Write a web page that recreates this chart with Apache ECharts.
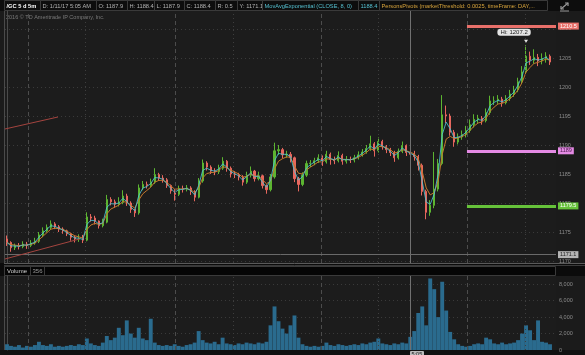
<!DOCTYPE html>
<html><head><meta charset="utf-8">
<script src="https://cdn.jsdelivr.net/npm/echarts@6/dist/echarts.min.js"></script>
<style>html,body{margin:0;padding:0;background:#1b1b1b;overflow:hidden}#c{width:585px;height:355px}</style>
</head><body><div id="c"></div>
<script>
// ---- data (one candle ≈ 50 min of 5-min bars) ----
const firstOpen = 1173.8;
const closes = [
1173.2,1172.3,1172.6,1172.5,1172.9,1172.7,1173.1,1173.4,1174.5,1175.2,
1175.8,1176.4,1175.9,1175.5,1175.2,1174.7,1174.1,1173.8,1173.9,1173.6,
1177.6,1177.4,1176.9,1176.1,1176.7,1180.6,1180.2,1179.8,1180.1,1181.2,
1180.0,1178.9,1178.3,1182.6,1183.2,1183.0,1183.6,1184.9,1184.3,1184.0,
1183.0,1182.1,1181.5,1182.5,1182.4,1182.6,1182.0,1181.0,1183.8,1186.9,
1186.2,1185.5,1185.4,1186.0,1187.2,1186.0,1185.0,1184.9,1184.5,1183.6,
1184.8,1185.5,1184.2,1184.7,1183.0,1182.3,1184.5,1189.0,1189.2,1188.3,
1188.4,1187.8,1184.2,1183.2,1184.8,1186.8,1186.9,1187.3,1187.8,1187.1,
1188.4,1187.5,1187.3,1188.2,1187.2,1187.5,1187.4,1187.8,1188.3,1188.8,
1189.4,1190.2,1189.0,1190.6,1189.7,1189.2,1188.7,1187.8,1188.9,1189.9,
1188.7,1188.4,1188.0,1186.5,1182.0,1178.4,1179.6,1182.4,1186.8,1195.2,
1195.0,1192.2,1190.5,1191.4,1191.8,1192.5,1193.5,1194.4,1194.6,1194.2,
1195.6,1197.6,1197.6,1197.9,1197.3,1198.0,1198.8,1199.5,1200.9,1202.6,
1205.3,1204.6,1205.1,1204.5,1204.9,1205.3,1204.3];
const lows = [
1172.6,1171.6,1171.9,1172.0,1172.2,1172.1,1172.4,1172.8,1173.1,1174.1,
1174.9,1175.4,1175.5,1175.0,1174.7,1174.3,1173.5,1173.2,1173.3,1173.1,
1173.4,1176.8,1176.3,1175.6,1175.8,1176.5,1179.6,1179.2,1179.4,1179.8,
1179.5,1178.3,1177.6,1178.0,1182.2,1182.5,1182.7,1183.3,1183.8,1183.5,
1182.6,1181.6,1180.4,1181.2,1181.8,1182.0,1181.4,1180.3,1180.8,1183.5,
1185.6,1185.0,1184.8,1185.0,1185.7,1185.4,1184.4,1184.3,1183.9,1183.0,
1183.3,1184.4,1183.7,1183.9,1182.5,1181.6,1182.0,1184.2,1188.3,1187.7,
1187.8,1187.0,1183.6,1182.0,1182.9,1184.5,1186.2,1186.5,1186.9,1186.4,
1186.8,1186.6,1186.7,1187.0,1186.6,1186.8,1186.9,1187.0,1187.5,1188.0,
1188.5,1189.0,1188.0,1188.7,1189.2,1188.6,1188.1,1187.1,1187.5,1188.6,
1188.1,1187.9,1187.3,1185.6,1181.3,1177.2,1177.8,1179.1,1182.0,1186.5,
1193.8,1191.6,1189.7,1190.1,1190.9,1191.3,1192.1,1193.0,1193.8,1193.5,
1193.9,1195.2,1196.9,1197.1,1196.6,1197.0,1197.6,1198.3,1199.1,1200.5,
1202.3,1203.8,1204.0,1203.6,1203.9,1204.2,1203.8];
const highs = [
1174.4,1173.4,1173.0,1173.1,1173.4,1173.3,1173.6,1174.0,1175.0,1175.8,
1176.3,1177.0,1176.7,1176.2,1175.8,1175.4,1174.9,1174.4,1174.6,1174.5,
1178.4,1178.1,1177.8,1177.0,1177.3,1181.4,1181.0,1180.6,1181.0,1182.2,
1181.6,1180.3,1179.0,1183.2,1183.8,1183.7,1184.2,1186.0,1185.2,1184.8,
1184.3,1183.2,1182.4,1183.0,1183.0,1183.1,1182.9,1182.2,1184.3,1187.5,
1187.2,1186.5,1186.0,1186.6,1187.9,1187.4,1186.3,1185.5,1185.2,1184.8,
1185.4,1186.3,1185.7,1185.4,1184.9,1183.2,1185.0,1190.4,1190.0,1189.5,
1189.0,1188.8,1188.0,1184.5,1185.3,1187.3,1187.4,1187.8,1188.4,1188.2,
1189.0,1188.7,1188.0,1188.9,1188.5,1188.1,1188.0,1188.3,1188.9,1189.3,
1190.0,1191.6,1190.5,1191.3,1190.9,1190.0,1189.5,1189.0,1189.4,1190.6,
1190.1,1189.3,1189.0,1188.3,1186.8,1182.3,1180.5,1188.8,1187.6,1198.6,
1196.8,1195.4,1192.6,1192.0,1192.5,1193.3,1194.4,1195.3,1195.2,1195.0,
1196.3,1198.5,1198.4,1198.6,1198.3,1198.6,1199.5,1200.2,1201.6,1203.6,
1207.2,1206.1,1206.5,1205.7,1205.8,1206.0,1205.6];
const volumes = [
700,500,400,600,300,500,400,600,1000,600,
500,700,400,500,400,500,600,500,700,600,
1400,800,600,500,900,1700,1200,1500,2700,1800,
3600,2000,1500,2700,1400,1200,3800,900,600,500,
600,500,700,500,400,600,700,900,2300,1200,
900,800,1000,700,1500,800,700,600,800,700,
900,800,700,900,800,1000,3000,5300,3500,2600,
2000,3000,4200,1500,700,500,400,500,400,500,
900,600,500,700,600,500,600,700,600,800,
700,900,1000,1400,800,700,600,800,700,900,
800,1600,2300,4500,5300,3000,8700,7400,4000,8300,
4800,2200,1300,700,500,400,500,700,800,700,
1500,1300,800,700,900,700,800,900,1200,2000,
3000,2400,1200,3600,1000,900,700];
const pivotValues = [1210.5, 1189, 1179.5];
const pivotLabels = ['1210.5', '1189', '1179.5'];
const priorClose = 1171.1;
const lastPrice = 1204.3;
const dayHigh = 1207.2, dayHighBar = 130;
const pivotStartBar = 115.2;
const sessionStarts = [5.26, 42.08, 78.64, 115.2];
const sessionMids = [19.54, 56.6, 92.92, 129.7];
const cursorBar = 100.93;
const trendUpper = [[-0.5, 1192.76], [12.77, 1194.83]];
const trendLower = [[-0.5, 1170.35], [18.28, 1173.82]];
const fastPeriod = 2, slowPeriod = 4;

// ---- build series ----
const opens = [firstOpen].concat(closes.slice(0, -1));
const candles = closes.map((c, i) => [i, opens[i], c, lows[i], highs[i]]);
const vol = volumes.map((v, i) => [i, v]);
function ema(vals, p) { const k = 2 / (p + 1); let prev = vals[0]; return vals.map(v => (prev = prev + k * (v - prev))); }
const fast = ema(closes, fastPeriod).map((v, i) => [i, +v.toFixed(2)]);
const slow = ema(closes, slowPeriod).map((v, i) => [i, +v.toFixed(2)]);
const xMax = closes.length + 0.5;

const FONT = 'Liberation Sans';
const axisLabelStyle = { color: '#8c8c8c', fontSize: 5.5, fontFamily: FONT, margin: 3 };
const splitStyle = { show: true, showMinLine: false, showMaxLine: false, lineStyle: { color: '#3a3a3a', type: [1, 3], width: 1 } };
function vLines() {
  return sessionStarts.map(v => ({ xAxis: v, lineStyle: { color: '#4c4c4c', type: [4, 3], width: 1 } }))
    .concat(sessionMids.map(v => ({ xAxis: v, lineStyle: { color: '#3e3e3e', type: [1, 3], width: 1 } })))
    .concat([{ xAxis: cursorBar, lineStyle: { color: '#707070', type: 'solid', width: 1 } }]);
}
const pivotColors = ['#e8706a', '#e48ae4', '#66c23a'];
const pivotText = ['#ffffff', '#4a1a4a', '#ffffff'];
const boxLabel = (txt, bg, fg, extra) => Object.assign({ show: true, position: 'end', distance: 2, formatter: txt, backgroundColor: bg, color: fg, fontSize: 5.5, fontFamily: FONT, padding: [1, 2, 0, 2] }, extra || {});

const priceMarks = vLines()
  .concat(pivotValues.map((p, k) => [
    { coord: [pivotStartBar, p], lineStyle: { color: pivotColors[k], width: 3, type: 'solid' }, label: boxLabel(pivotLabels[k], pivotColors[k], pivotText[k]) },
    { coord: [xMax, p] }]))
  .concat([
    [{ coord: [-0.5, priorClose], lineStyle: { color: '#6a6a6a', width: 1, type: 'solid' }, label: boxLabel(String(priorClose), '#b4b4b4', '#222') }, { coord: [xMax, priorClose] }],
    [{ coord: [closes.length - 1, lastPrice], lineStyle: { opacity: 0 }, label: boxLabel(String(lastPrice), '#222', '#dddddd', { borderColor: '#9a9a9a', borderWidth: 1 }) }, { coord: [xMax, lastPrice] }],
    [{ coord: trendUpper[0], lineStyle: { color: '#a4443f', width: 1, type: 'solid' } }, { coord: trendUpper[1] }],
    [{ coord: trendLower[0], lineStyle: { color: '#a4443f', width: 1, type: 'solid' } }, { coord: trendLower[1] }]
  ]);

// ---- header graphics ----
const headerCells = [
  [4, 40, '/GC 5 d 5m', '#ffffff', 'bold'],
  [40, 96, 'D: 1/11/17 5:05 AM', '#b4b4b4'],
  [96, 127, 'O: 1187.9', '#b4b4b4'],
  [127, 154, 'H: 1188.4', '#b4b4b4'],
  [154, 184, 'L: 1187.9', '#b4b4b4'],
  [184, 215, 'C: 1188.4', '#b4b4b4'],
  [215, 237, 'R: 0.5', '#b4b4b4'],
  [237, 262, 'Y: 1171.1', '#b4b4b4'],
  [262, 358, 'MovAvgExponential (CLOSE, 8, 0)', '#55c2d2'],
  [358, 379, '1188.4', '#55c2d2'],
  [379, 547, 'PersonsPivots (marketThreshold: 0.0025, timeFrame: DAY,...', '#d9a53c']
];
const graphics = [
  { type: 'rect', shape: { x: 0, y: 0, width: 585, height: 11 }, style: { fill: '#0d0d0d' } },
  { type: 'rect', shape: { x: 0, y: 263, width: 585, height: 13 }, style: { fill: '#0b0b0b' } },
  { type: 'line', shape: { x1: 4, y1: 263.5, x2: 585, y2: 263.5 }, style: { stroke: '#5a5a5a', lineWidth: 1 } },
  { type: 'line', shape: { x1: 4, y1: 265.5, x2: 585, y2: 265.5 }, style: { stroke: '#3a3a3a', lineWidth: 1 } },
  { type: 'rect', shape: { x: 4.5, y: 266.5, width: 551, height: 9 }, style: { fill: '#050505', stroke: '#3a3a3a', lineWidth: 1 } },
  { type: 'rect', shape: { x: 4.5, y: 266.5, width: 26, height: 9 }, style: { fill: 'none', stroke: '#3a3a3a', lineWidth: 1 } },
  { type: 'rect', shape: { x: 30.5, y: 266.5, width: 14, height: 9 }, style: { fill: 'none', stroke: '#3a3a3a', lineWidth: 1 } },
  { type: 'text', x: 7, y: 271, style: { text: 'Volume', fill: '#d0d0d0', fontSize: 6, fontFamily: FONT, verticalAlign: 'middle' } },
  { type: 'text', x: 32.5, y: 271, style: { text: '356', fill: '#9a9a9a', fontSize: 6, fontFamily: FONT, verticalAlign: 'middle' } },
  { type: 'rect', shape: { x: 0, y: 350, width: 585, height: 5 }, style: { fill: '#111111' } },
  { type: 'line', shape: { x1: 4.5, y1: 11, x2: 4.5, y2: 263 }, style: { stroke: '#4a4a4a', lineWidth: 1 } },
  { type: 'line', shape: { x1: 4.5, y1: 276, x2: 4.5, y2: 350 }, style: { stroke: '#4a4a4a', lineWidth: 1 } },
  { type: 'text', x: 6, y: 17.5, style: { text: '2016 © TD Ameritrade IP Company, Inc.', fill: '#7a7a7a', fontSize: 5.5, fontFamily: FONT, verticalAlign: 'middle' } },
  { type: 'rect', shape: { x: 410, y: 351, width: 14, height: 7, r: 1 }, style: { fill: '#bcbcbc' } },
  { type: 'text', x: 411.5, y: 354.5, style: { text: '5:05', fill: '#222', fontSize: 5.5, fontFamily: FONT, verticalAlign: 'middle' } },
  { type: 'polyline', shape: { points: [[561, 9], [568, 3]] }, style: { stroke: '#9a9a9a', lineWidth: 1.2 } },
  { type: 'polyline', shape: { points: [[561, 6], [561, 9], [564, 9]] }, style: { stroke: '#9a9a9a', lineWidth: 1.2, fill: 'none' } },
  { type: 'polyline', shape: { points: [[565, 3], [568, 3], [568, 6]] }, style: { stroke: '#9a9a9a', lineWidth: 1.2, fill: 'none' } },
  { type: 'line', shape: { x1: 560, y1: 11, x2: 569, y2: 11 }, style: { stroke: '#9a9a9a', lineWidth: 1 } }
];
headerCells.forEach(c => {
  graphics.push({ type: 'rect', shape: { x: c[0] + 0.5, y: 0.5, width: c[1] - c[0], height: 10 }, style: { fill: 'none', stroke: '#3a3a3a', lineWidth: 1 } });
  graphics.push({ type: 'text', x: c[0] + 2.5, y: 6, style: { text: c[2], fill: c[3], fontSize: 5.7, fontWeight: c[4] || 'normal', fontFamily: FONT, verticalAlign: 'middle' } });
});

const chart = echarts.init(document.getElementById('c'), null, { renderer: 'canvas' });
chart.setOption({
  animation: false,
  backgroundColor: '#1b1b1b',
  textStyle: { fontFamily: FONT },
  graphic: graphics,
  grid: [
    { left: 5, right: 29, top: 11, height: 252, show: true, backgroundColor: '#1c1c1c', borderWidth: 0 },
    { left: 5, right: 29, top: 276, height: 74, show: true, backgroundColor: '#1c1c1c', borderWidth: 0 }
  ],
  xAxis: [
    { type: 'value', gridIndex: 0, min: -0.5, max: xMax, show: false },
    { type: 'value', gridIndex: 1, min: -0.5, max: xMax, show: false }
  ],
  yAxis: [
    { type: 'value', gridIndex: 0, position: 'right', min: 1169.66, max: 1213.1, splitNumber: 8,
      axisLine: { show: true, lineStyle: { color: '#4a4a4a' } }, axisTick: { show: false },
      axisLabel: Object.assign({ showMinLabel: false, showMaxLabel: false, formatter: v => String(Math.round(v)) }, axisLabelStyle),
      splitLine: splitStyle },
    { type: 'value', gridIndex: 1, position: 'right', min: 0, max: 9000, interval: 2000,
      axisLine: { show: true, lineStyle: { color: '#4a4a4a' } }, axisTick: { show: false },
      axisLabel: Object.assign({ showMaxLabel: false, formatter: v => v.toLocaleString('en-US') }, axisLabelStyle),
      splitLine: splitStyle }
  ],
  series: [
    { type: 'candlestick', xAxisIndex: 0, yAxisIndex: 0, data: candles, barWidth: 1.6, z: 2,
      itemStyle: { color: '#5cb531', color0: '#e8675e', borderColor: '#5cb531', borderColor0: '#e8675e', borderWidth: 1 },
      markLine: { silent: true, symbol: ['none', 'none'], animation: false, label: { show: false }, data: priceMarks },
      markPoint: { silent: true, animation: false, data: [
        { coord: [dayHighBar, dayHigh], symbol: 'triangle', symbolRotate: 180, symbolSize: [4, 3], symbolOffset: [0, -4], itemStyle: { color: '#e4e4e4' },
          label: { show: true, position: 'inside', offset: [-12, -9], formatter: 'Hi: ' + dayHigh, backgroundColor: '#e4e4e4', color: '#222', borderRadius: 3, padding: [1, 3, 0, 3], fontSize: 6, fontFamily: FONT } }
      ] } },
    { type: 'line', xAxisIndex: 0, yAxisIndex: 0, data: slow, showSymbol: false, z: 3, lineStyle: { color: '#c4782c', width: 1 } },
    { type: 'line', xAxisIndex: 0, yAxisIndex: 0, data: fast, showSymbol: false, z: 3, lineStyle: { color: '#4ec3d4', width: 1, opacity: 0.85 } },
    { type: 'bar', xAxisIndex: 1, yAxisIndex: 1, data: vol, barWidth: 3.9, itemStyle: { color: '#2a6b8e' },
      markLine: { silent: true, symbol: ['none', 'none'], animation: false, label: { show: false }, data: vLines() } }
  ]
});
</script>
</body></html>
